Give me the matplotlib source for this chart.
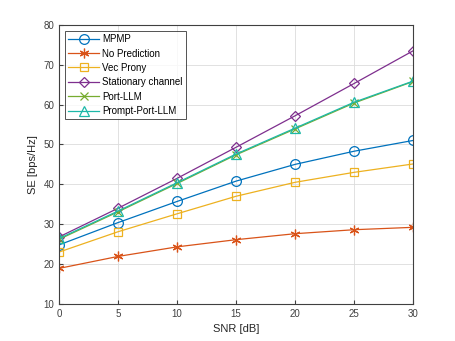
import numpy as np
import matplotlib
matplotlib.use("Agg")
import matplotlib.pyplot as plt

plt.rcParams["font.family"] = ["Liberation Sans", "DejaVu Sans"]

# data
snr = [0, 5, 10, 15, 20, 25, 30]
mpmp = [24.8, 30.4, 35.7, 40.8, 45.0, 48.3, 51.0]
no_pred = [18.9, 21.9, 24.3, 26.1, 27.6, 28.6, 29.2]
vec_prony = [23.0, 28.1, 32.6, 37.0, 40.5, 43.0, 45.1]
stationary = [26.8, 34.0, 41.5, 49.3, 57.2, 65.3, 73.5]
port_llm = [26.2, 33.1, 40.2, 47.4, 53.9, 60.4, 65.8]
prompt_port_llm = [26.4, 33.3, 40.4, 47.6, 54.1, 60.6, 65.9]

labels = ["MPMP", "No Prediction", "Vec Prony", "Stationary channel",
          "Port-LLM", "Prompt-Port-LLM"]
series = [mpmp, no_pred, vec_prony, stationary, port_llm, prompt_port_llm]
colors = ["#0072BD", "#D95319", "#EDB120", "#7E2F8E", "#77AC30", "#1DB8A8"]
markers = ["o", (6, 2, 0), "s", "D", "x", "^"]
msizes = [7, 7, 5.5, 5, 5.5, 7]

fig = plt.figure(figsize=(4.55, 3.41), dpi=100)
ax = fig.add_axes([0.130, 0.109, 0.778, 0.818])

for y, lab, c, m, ms in zip(series, labels, colors, markers, msizes):
    ax.plot(snr, y, color=c, marker=m, markersize=ms, markerfacecolor="none",
            markeredgecolor=c, markeredgewidth=0.9, linewidth=0.9, label=lab)

ax.set_xlim(0, 30)
ax.set_ylim(10, 80)
ax.set_xticks(range(0, 31, 5))
ax.set_yticks(range(10, 81, 10))
ax.grid(True, color="#dcdcdc", linewidth=0.6)
ax.tick_params(labelsize=7, colors="#404040", length=3, direction="in")
for s in ax.spines.values():
    s.set_color("#404040")
    s.set_linewidth(0.8)
ax.set_xlabel("SNR [dB]", fontsize=8, color="#262626")
ax.set_ylabel("SE [bps/Hz]", fontsize=8, color="#262626")

leg = ax.legend(loc="upper left", fontsize=7, frameon=True, fancybox=False,
                edgecolor="#262626", borderpad=0.35, labelspacing=0.45,
                handlelength=3.2, handletextpad=0.3, borderaxespad=0.6)
leg.get_frame().set_linewidth(0.7)

fig.savefig("out.png", dpi=100)
